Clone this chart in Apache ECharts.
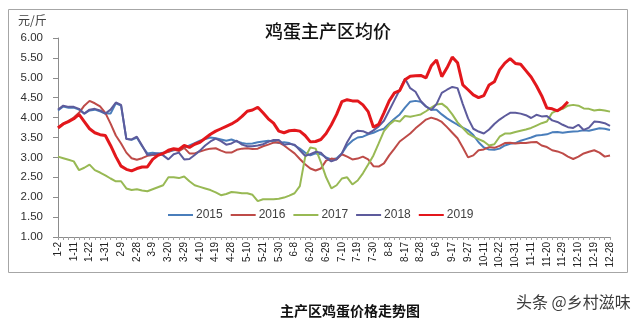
<!DOCTYPE html>
<html>
<head>
<meta charset="utf-8">
<script src="https://cdn.jsdelivr.net/npm/echarts@6/dist/echarts.min.js"></script>
<style>
  html, body { margin: 0; padding: 0; background: #ffffff; }
  #chart { width: 640px; height: 324px; }
</style>
</head>
<body>
<div id="chart"></div>
<script>
// Date labels shown on the x axis (one every third sample)
const tickLabels = ['1-2','1-11','1-22','1-31','2-9','2-28','3-9','3-20','3-29','4-10','4-19','4-28',
  '5-10','5-21','5-30','6-8','6-20','6-29','7-10','7-19','7-30','8-8','8-17','8-28',
  '9-6','9-17','9-27','10-11','10-22','10-31','11-11','11-20','11-29','12-10','12-19','12-28'];

const seriesNames = ['2015', '2016', '2017', '2018', '2019'];

// Average egg price in the main producing areas, yuan per jin
const prices2015 = [
  4.18, 4.28, 4.25, 4.25, 4.2, 4.1, 4.18, 4.2, 4.16, 4.1,
  4.1, 4.36, 4.3, 3.47, 3.44, 3.5, 3.28, 3.1, 3.12, 3.1,
  3.12, 3.14, 3.18, 3.2, 3.25, 3.3, 3.36, 3.42, 3.46, 3.5,
  3.48, 3.45, 3.42, 3.45, 3.4, 3.36, 3.34, 3.35, 3.38, 3.4,
  3.42, 3.4, 3.36, 3.38, 3.36, 3.3, 3.22, 3.12, 3.05, 3.1,
  3.08, 3.0, 2.95, 2.98, 3.1, 3.3, 3.42, 3.5, 3.52, 3.58,
  3.62, 3.68, 3.72, 3.85, 3.97, 4.08, 4.25, 4.4, 4.42, 4.4,
  4.28, 4.2, 4.2, 4.08, 3.98, 3.9, 3.82, 3.75, 3.68, 3.56,
  3.38, 3.25, 3.2, 3.19, 3.22, 3.3, 3.34, 3.36, 3.42, 3.46,
  3.5, 3.55, 3.56, 3.58, 3.63, 3.64, 3.62, 3.64, 3.65, 3.66,
  3.68, 3.67, 3.7, 3.73, 3.72, 3.69
];
const prices2016 = [
  3.76, 3.85, 3.92, 4.0, 4.12, 4.3, 4.42, 4.36, 4.28, 4.12,
  3.85, 3.55, 3.35, 3.12, 2.98, 2.94, 2.98, 3.04, 3.06, 3.06,
  3.1, 3.14, 3.2, 3.16, 3.24, 3.1, 3.1, 3.15, 3.19, 3.22,
  3.23, 3.17, 3.12, 3.12, 3.19, 3.22, 3.23, 3.21, 3.22, 3.28,
  3.32, 3.37, 3.38, 3.3, 3.2, 3.1, 2.96, 2.83, 2.72, 2.67,
  2.72, 2.92, 2.97, 2.95, 3.08, 3.02, 2.95, 2.97, 3.02, 2.95,
  2.78, 2.77, 2.85, 3.05, 3.22, 3.4, 3.5, 3.6, 3.73, 3.84,
  3.95, 4.0, 3.96, 3.89, 3.76, 3.62, 3.48, 3.25, 3.0, 3.05,
  3.18, 3.2, 3.26, 3.24, 3.29, 3.36, 3.37, 3.35, 3.36, 3.36,
  3.38, 3.39, 3.3, 3.26, 3.18, 3.15, 3.1, 3.02, 2.96, 3.02,
  3.1, 3.14, 3.18, 3.12, 3.02, 3.05
];
const prices2017 = [
  3.02, 2.98, 2.94, 2.9, 2.68, 2.74, 2.82, 2.68, 2.62, 2.55,
  2.47, 2.4, 2.4, 2.22, 2.18, 2.2, 2.17, 2.15, 2.2, 2.25,
  2.3, 2.5, 2.5, 2.48, 2.52, 2.4, 2.3, 2.26, 2.22, 2.18,
  2.12, 2.05, 2.08, 2.13, 2.12, 2.1, 2.1, 2.06, 1.9, 1.95,
  1.95, 1.95, 1.96, 1.99, 2.04, 2.1, 2.28, 3.0, 3.25, 3.22,
  2.88, 2.5, 2.22, 2.3, 2.47, 2.5, 2.32, 2.42, 2.6, 2.82,
  3.05, 3.35, 3.66, 3.82, 3.93, 3.9, 4.04, 4.02, 4.05, 4.08,
  4.16, 4.25, 4.33, 4.35, 4.25, 4.08, 3.88, 3.74, 3.6, 3.52,
  3.46, 3.4, 3.3, 3.33, 3.52, 3.6, 3.6, 3.64, 3.67, 3.7,
  3.74, 3.8, 3.86, 3.9, 4.12, 4.18, 4.22, 4.3, 4.32, 4.3,
  4.23, 4.22, 4.18, 4.2, 4.18, 4.15
];
const prices2018 = [
  4.2, 4.3, 4.27, 4.27, 4.22, 4.1, 4.2, 4.22, 4.18, 4.1,
  4.2, 4.38, 4.32, 3.46, 3.45, 3.52, 3.3, 3.06, 3.08, 3.1,
  3.05, 2.95, 3.08, 3.12, 2.95, 2.96, 3.06, 3.17, 3.3, 3.4,
  3.47, 3.41, 3.32, 3.35, 3.42, 3.32, 3.28, 3.28, 3.3, 3.33,
  3.39, 3.44, 3.44, 3.32, 3.34, 3.32, 3.18, 3.04, 3.08, 3.14,
  3.12, 2.98, 2.9, 2.95, 3.1, 3.38, 3.6, 3.67, 3.66, 3.6,
  3.68, 3.78, 3.92, 4.18, 4.44, 4.7, 4.98, 4.74, 4.65, 4.42,
  4.28, 4.19, 4.34, 4.62, 4.7, 4.77, 4.74, 4.34, 3.98, 3.72,
  3.65, 3.6, 3.7, 3.84, 3.95, 4.04, 4.12, 4.12, 4.1, 4.06,
  3.99, 4.07, 4.03, 4.04, 3.93, 3.89, 3.82, 3.76, 3.74, 3.82,
  3.69, 3.75, 3.9, 3.89, 3.86, 3.79
];
const prices2019 = [
  3.74, 3.84, 3.9, 3.97, 4.08, 3.9, 3.72, 3.62, 3.57, 3.55,
  3.3, 3.02, 2.78, 2.7, 2.66, 2.72, 2.76, 2.76, 2.95, 3.05,
  3.1, 3.18, 3.22, 3.2, 3.3, 3.25, 3.33, 3.38, 3.48, 3.58,
  3.66, 3.72, 3.78, 3.84, 3.92, 4.03, 4.16, 4.19, 4.26, 4.12,
  3.97, 3.86, 3.66, 3.62, 3.67, 3.68, 3.66, 3.55, 3.39, 3.4,
  3.45, 3.6, 3.82, 4.08, 4.4, 4.45, 4.42, 4.42, 4.32, 4.15,
  3.76, 3.83, 4.12, 4.42, 4.62, 4.68, 4.95, 5.04, 5.05, 5.06,
  5.0, 5.3, 5.45, 5.03, 5.25, 5.52, 5.38, 4.82, 4.7, 4.57,
  4.5, 4.55, 4.82, 4.9, 5.2, 5.37, 5.48, 5.36, 5.34, 5.18,
  5.02, 4.8, 4.55, 4.24, 4.22, 4.17, 4.26, 4.4, null, null,
  null, null, null, null, null, null
];

const seriesColors = ['#4a7ebb', '#be4b48', '#98b954', '#5d5b9c', '#e3171c'];
const seriesValues = [prices2015, prices2016, prices2017, prices2018, prices2019];

// Category axis: every sample gets a slot, only every third carries a date label
const categories = [];
tickLabels.forEach(function (lab, k) {
  categories.push(lab);
  if (k < tickLabels.length - 1) { categories.push(''); categories.push(''); }
});

const chart = echarts.init(document.getElementById('chart'), null, { renderer: 'canvas' });

const textFont = '"Liberation Sans", Arial, sans-serif';
const cjkFont = '"Noto Sans CJK SC", sans-serif';

chart.setOption({
  animation: false,
  backgroundColor: '#ffffff',
  title: [
    {
      text: '鸡蛋主产区均价',
      left: 260, top: 17,
      textStyle: { fontFamily: cjkFont, fontSize: 18, fontWeight: 500, color: '#111111' }
    },
    {
      text: '主产区鸡蛋价格走势图',
      left: 275, top: 299,
      textStyle: { fontFamily: cjkFont, fontSize: 14, fontWeight: 'bold', color: '#111111' }
    },
    {
      text: '头条 @乡村滋味',
      left: 511, top: 289,
      textStyle: { fontFamily: cjkFont, fontSize: 16, fontWeight: 'normal', color: '#3c3c3c' }
    }
  ],
  graphic: [
    {
      type: 'rect',
      shape: { x: 8.5, y: 9.5, width: 619, height: 263 },
      style: { fill: 'none', stroke: '#a6a6a6', lineWidth: 1 },
      silent: true
    },
    {
      type: 'text',
      left: 18, top: 14,
      style: { text: '元/斤', fontFamily: cjkFont, fontSize: 12, fill: '#404040' }
    }
  ],
  legend: {
    data: seriesNames,
    left: 163, top: 204,
    icon: 'rect',
    itemWidth: 25, itemHeight: 2,
    itemGap: 8,
    textStyle: { fontFamily: textFont, fontSize: 12, color: '#404040', padding: [0, 0, 0, -2] }
  },
  grid: { left: 58, right: 30, top: 38, bottom: 87, containLabel: false },
  xAxis: {
    type: 'category',
    data: categories,
    boundaryGap: false,
    axisLine: { lineStyle: { color: '#8c8c8c', width: 1 } },
    axisTick: { interval: 0, length: 3, lineStyle: { color: '#a0a0a0' } },
    axisLabel: {
      interval: 2, rotate: 90, margin: 5,
      fontFamily: textFont, fontSize: 10, color: '#222222'
    },
    splitLine: { show: false }
  },
  yAxis: {
    type: 'value',
    min: 1, max: 6, interval: 0.5,
    axisLine: { show: true, lineStyle: { color: '#8c8c8c', width: 1 } },
    axisTick: { show: true, length: 5, lineStyle: { color: '#8c8c8c' } },
    axisLabel: {
      margin: 15, fontFamily: textFont, fontSize: 11.5, color: '#303030',
      formatter: function (v) { return v.toFixed(2); }
    },
    splitLine: { show: false }
  },
  series: seriesNames.map(function (name, i) {
    return {
      name: name,
      type: 'line',
      data: seriesValues[i],
      symbol: 'none',
      smooth: false,
      connectNulls: false,
      color: seriesColors[i],
      lineStyle: { color: seriesColors[i], width: i === 4 ? 3 : 2 },
      z: 2 + i
    };
  })
});
</script>
</body>
</html>
